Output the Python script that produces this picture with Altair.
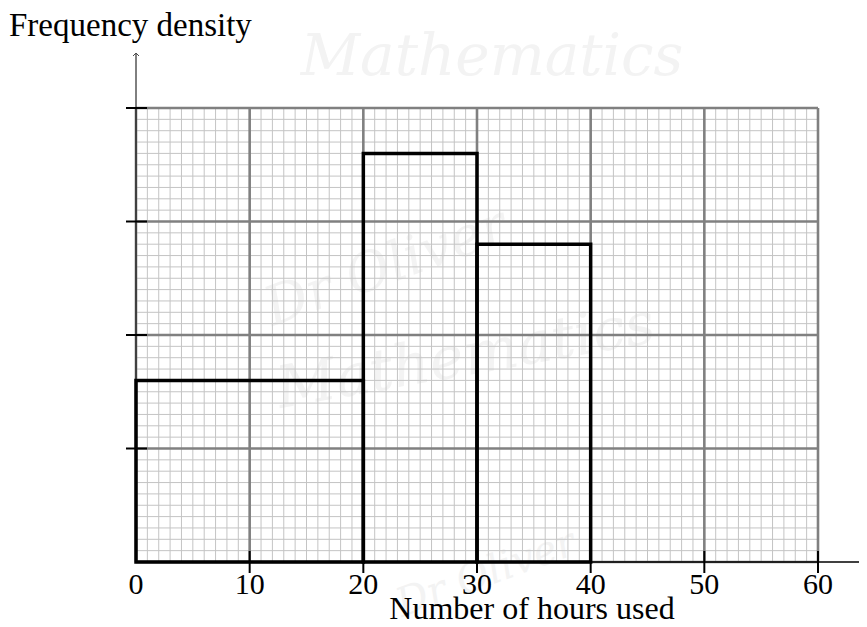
import altair as alt
import pandas as pd

# ---- data ----
bin_starts = [0, 20, 30]
bin_ends = [20, 30, 40]
density = [16, 36, 28]          # in small-square units (4 major rows of 10)
x_labels = [0, 10, 20, 30, 40, 50, 60]
y_major = [10, 20, 30, 40]
x_minor = list(range(0, 61))
y_minor = list(range(0, 41))
x_major = list(range(0, 61, 10))
y_major_grid = list(range(0, 41, 10))
watermarks = ["Mathematics", "Dr Oliver", "Mathematics", "Dr Oliver"]

W, H = 682, 454
xs = alt.Scale(domain=[0, 60], nice=False, zero=False)
ys = alt.Scale(domain=[0, 40], nice=False, zero=False)
noax = None

bars = pd.DataFrame({"a": bin_starts, "b": bin_ends, "d": density})
one = pd.DataFrame({"k": [0]})

wm = pd.DataFrame({
    "t": watermarks,
    "px": [356, 250, 330, 350],
    "py": [-50, 160, 250, 466],
    "ang": [0, 340, 350, 340],
    "sz": [58, 54, 58, 40],
})

wm_layers = []
for i, r in wm.iterrows():
    wm_layers.append(
        alt.Chart(one).mark_text(
            text=r["t"], font="DejaVu Serif", fontStyle="italic", fontSize=float(r["sz"]),
            color="#f3f3f3", angle=float(r["ang"]), align="center", baseline="middle"
        ).encode(x=alt.value(float(r["px"])), y=alt.value(float(r["py"])))
    )

minor_v = alt.Chart(pd.DataFrame({"x": x_minor})).mark_rule(
    color="#c4c4c4", strokeWidth=1).encode(x=alt.X("x:Q", scale=xs, axis=noax))
minor_h = alt.Chart(pd.DataFrame({"y": y_minor})).mark_rule(
    color="#c4c4c4", strokeWidth=1).encode(y=alt.Y("y:Q", scale=ys, axis=noax))
major_v = alt.Chart(pd.DataFrame({"x": x_major})).mark_rule(
    color="#808080", strokeWidth=2.6).encode(x=alt.X("x:Q", scale=xs, axis=noax))
major_h = alt.Chart(pd.DataFrame({"y": y_major_grid})).mark_rule(
    color="#808080", strokeWidth=2.6).encode(y=alt.Y("y:Q", scale=ys, axis=noax))

hist = alt.Chart(bars).mark_rect(
    fill=None, fillOpacity=0, stroke="black", strokeWidth=3.5, strokeJoin="miter"
).encode(
    x=alt.X("a:Q", scale=xs, axis=noax), x2="b:Q",
    y=alt.Y("d:Q", scale=ys, axis=noax), y2=alt.datum(0),
)

x_axis = alt.Chart(one).mark_rule(color="black", strokeWidth=1.5).encode(
    x=alt.value(0), x2=alt.value(731), y=alt.value(H))
y_axis = alt.Chart(one).mark_rule(color="black", strokeWidth=1).encode(
    x=alt.value(0), y=alt.value(-54), y2=alt.value(H))
arrow = alt.Chart(one).mark_point(
    shape="M -1 1 L 0 0 L 1 1", filled=False, stroke="black", strokeWidth=1, size=36
).encode(x=alt.value(0), y=alt.value(-55))

x_ticks = alt.Chart(pd.DataFrame({"x": x_labels[1:]})).mark_rule(
    color="black", strokeWidth=2).encode(
    x=alt.X("x:Q", scale=xs, axis=noax), y=alt.value(H - 11), y2=alt.value(H + 11))
y_ticks = alt.Chart(pd.DataFrame({"y": y_major})).mark_rule(
    color="black", strokeWidth=2).encode(
    y=alt.Y("y:Q", scale=ys, axis=noax), x=alt.value(-10), x2=alt.value(11))

x_text = alt.Chart(pd.DataFrame({"x": x_labels})).mark_text(
    font="Liberation Serif", fontSize=30, color="black", align="center",
    baseline="alphabetic").encode(
    x=alt.X("x:Q", scale=xs, axis=noax), y=alt.value(H + 32), text="x:N")

x_title = alt.Chart(one).mark_text(
    text="Number of hours used", font="Liberation Serif", fontSize=32,
    color="black", align="center", baseline="alphabetic").encode(
    x=alt.value(396), y=alt.value(H + 57))
y_title = alt.Chart(one).mark_text(
    text="Frequency density", font="Liberation Serif", fontSize=33,
    color="black", align="left", baseline="alphabetic").encode(
    x=alt.value(-127), y=alt.value(-72))

chart = alt.layer(
    *wm_layers, minor_v, minor_h, major_v, major_h, hist,
    x_axis, y_axis, arrow, x_ticks, y_ticks, x_text, x_title, y_title
).properties(
    width=W, height=H,
    autosize=alt.AutoSizeParams(type="none"),
    padding={"left": 128, "top": 100, "right": 41, "bottom": 65},
).configure_view(stroke=None)

chart.save("out.html", embed_options={"renderer": "svg", "actions": False})
